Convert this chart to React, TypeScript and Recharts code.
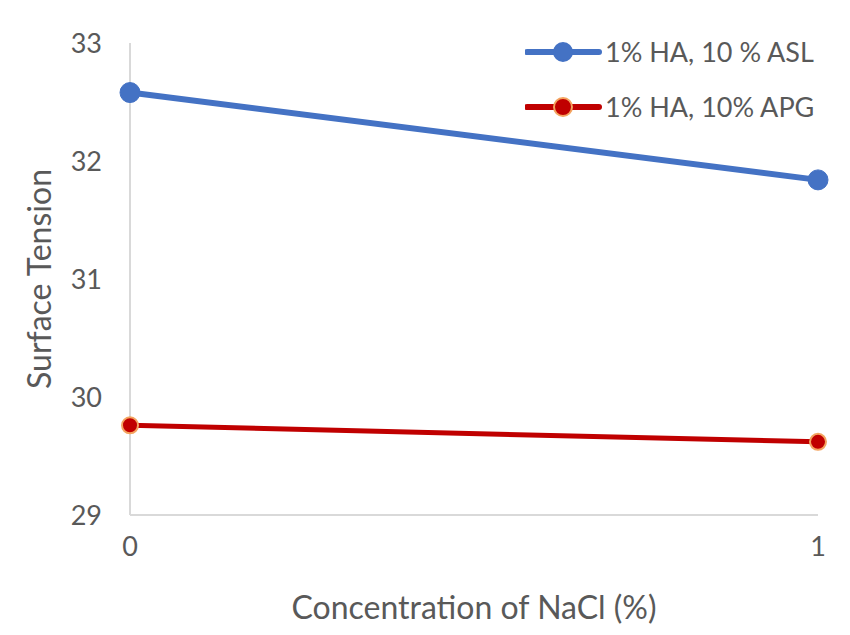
import { LineChart, Line, XAxis, YAxis, Legend, Label } from "recharts";

const concentration = [0, 1];
const aslValues = [32.58, 31.84];
const apgValues = [29.76, 29.62];
const yTicks = [29, 30, 31, 32, 33];
const xTicks = [0, 1];

const seriesNames = ["1% HA, 10 % ASL", "1% HA, 10% APG"];

const data = concentration.map((c, i) => ({
  nacl: c,
  asl: aslValues[i],
  apg: apgValues[i],
}));

const FONT = "Lato, 'Open Sans', sans-serif";
const TEXT = "#595959";

function LegendBox() {
  const rows = [
    { name: seriesNames[0], color: "#4472C4", fill: "#4472C4", stroke: "#4472C4", r: 9 },
    { name: seriesNames[1], color: "#C00000", fill: "#C00000", stroke: "#F4A460", r: 9 },
  ];
  return (
    <div style={{ fontFamily: FONT }}>
      {rows.map((r) => (
        <div key={r.name} style={{ display: "flex", alignItems: "center", height: 55 }}>
          <svg width={78} height={24}>
            <line x1={2} y1={12} x2={74} y2={12} stroke={r.color} strokeWidth={6} strokeLinecap="round" />
            <circle cx={38} cy={12} r={r.r} fill={r.fill} stroke={r.stroke} strokeWidth={2} />
          </svg>
          <span style={{ fontSize: 27, color: TEXT, marginLeft: 2, whiteSpace: "nowrap" }}>{r.name}</span>
        </div>
      ))}
    </div>
  );
}

function YTitle(props: any) {
  const vb = props.viewBox;
  const x = vb.x + 30;
  const y = vb.y + vb.height / 2;
  return (
    <text
      x={x}
      y={y}
      transform={`rotate(-90, ${x}, ${y})`}
      textAnchor="middle"
      dominantBaseline="central"
      fontSize={32}
      fill={TEXT}
      fontFamily={FONT}
    >
      Surface Tension
    </text>
  );
}

export default function App() {
  return (
    <div style={{ width: 834, height: 619, background: "#fff" }}>
      <LineChart
        width={834}
        height={619}
        data={data}
        margin={{ top: 35, right: 24, bottom: 7, left: 0 }}
      >
        <XAxis
          dataKey="nacl"
          type="number"
          domain={[0, 1]}
          ticks={xTicks}
          height={105}
          tickLine={false}
          tickSize={0}
          tickMargin={22}
          stroke="#D9D9D9"
          strokeWidth={2}
          tick={{ fill: TEXT, fontSize: 27, fontFamily: FONT }}
        >
          <Label
            value="Concentration of NaCl (%)"
            position="insideBottom"
            offset={1}
            fill={TEXT}
            fontSize={32}
            fontFamily={FONT}
          />
        </XAxis>
        <YAxis
          type="number"
          domain={[29, 33]}
          ticks={yTicks}
          width={122}
          tickLine={false}
          tickSize={0}
          tickMargin={28}
          stroke="#D9D9D9"
          strokeWidth={2}
          tick={{ fill: TEXT, fontSize: 27, fontFamily: FONT }}
        >
          <Label content={<YTitle />} />
        </YAxis>
        <Legend
          layout="vertical"
          align="center"
          verticalAlign="middle"
          content={<LegendBox />}
          wrapperStyle={{ position: "absolute", top: 16, left: 517, width: 320 }}
        />
        <Line
          dataKey="asl"
          name={seriesNames[0]}
          stroke="#4472C4"
          strokeWidth={6}
          dot={{ r: 10, fill: "#4472C4", stroke: "#4472C4", strokeWidth: 1 }}
          isAnimationActive={false}
        />
        <Line
          dataKey="apg"
          name={seriesNames[1]}
          stroke="#C00000"
          strokeWidth={5}
          dot={{ r: 8, fill: "#C00000", stroke: "#F4A460", strokeWidth: 2 }}
          isAnimationActive={false}
        />
      </LineChart>
    </div>
  );
}
